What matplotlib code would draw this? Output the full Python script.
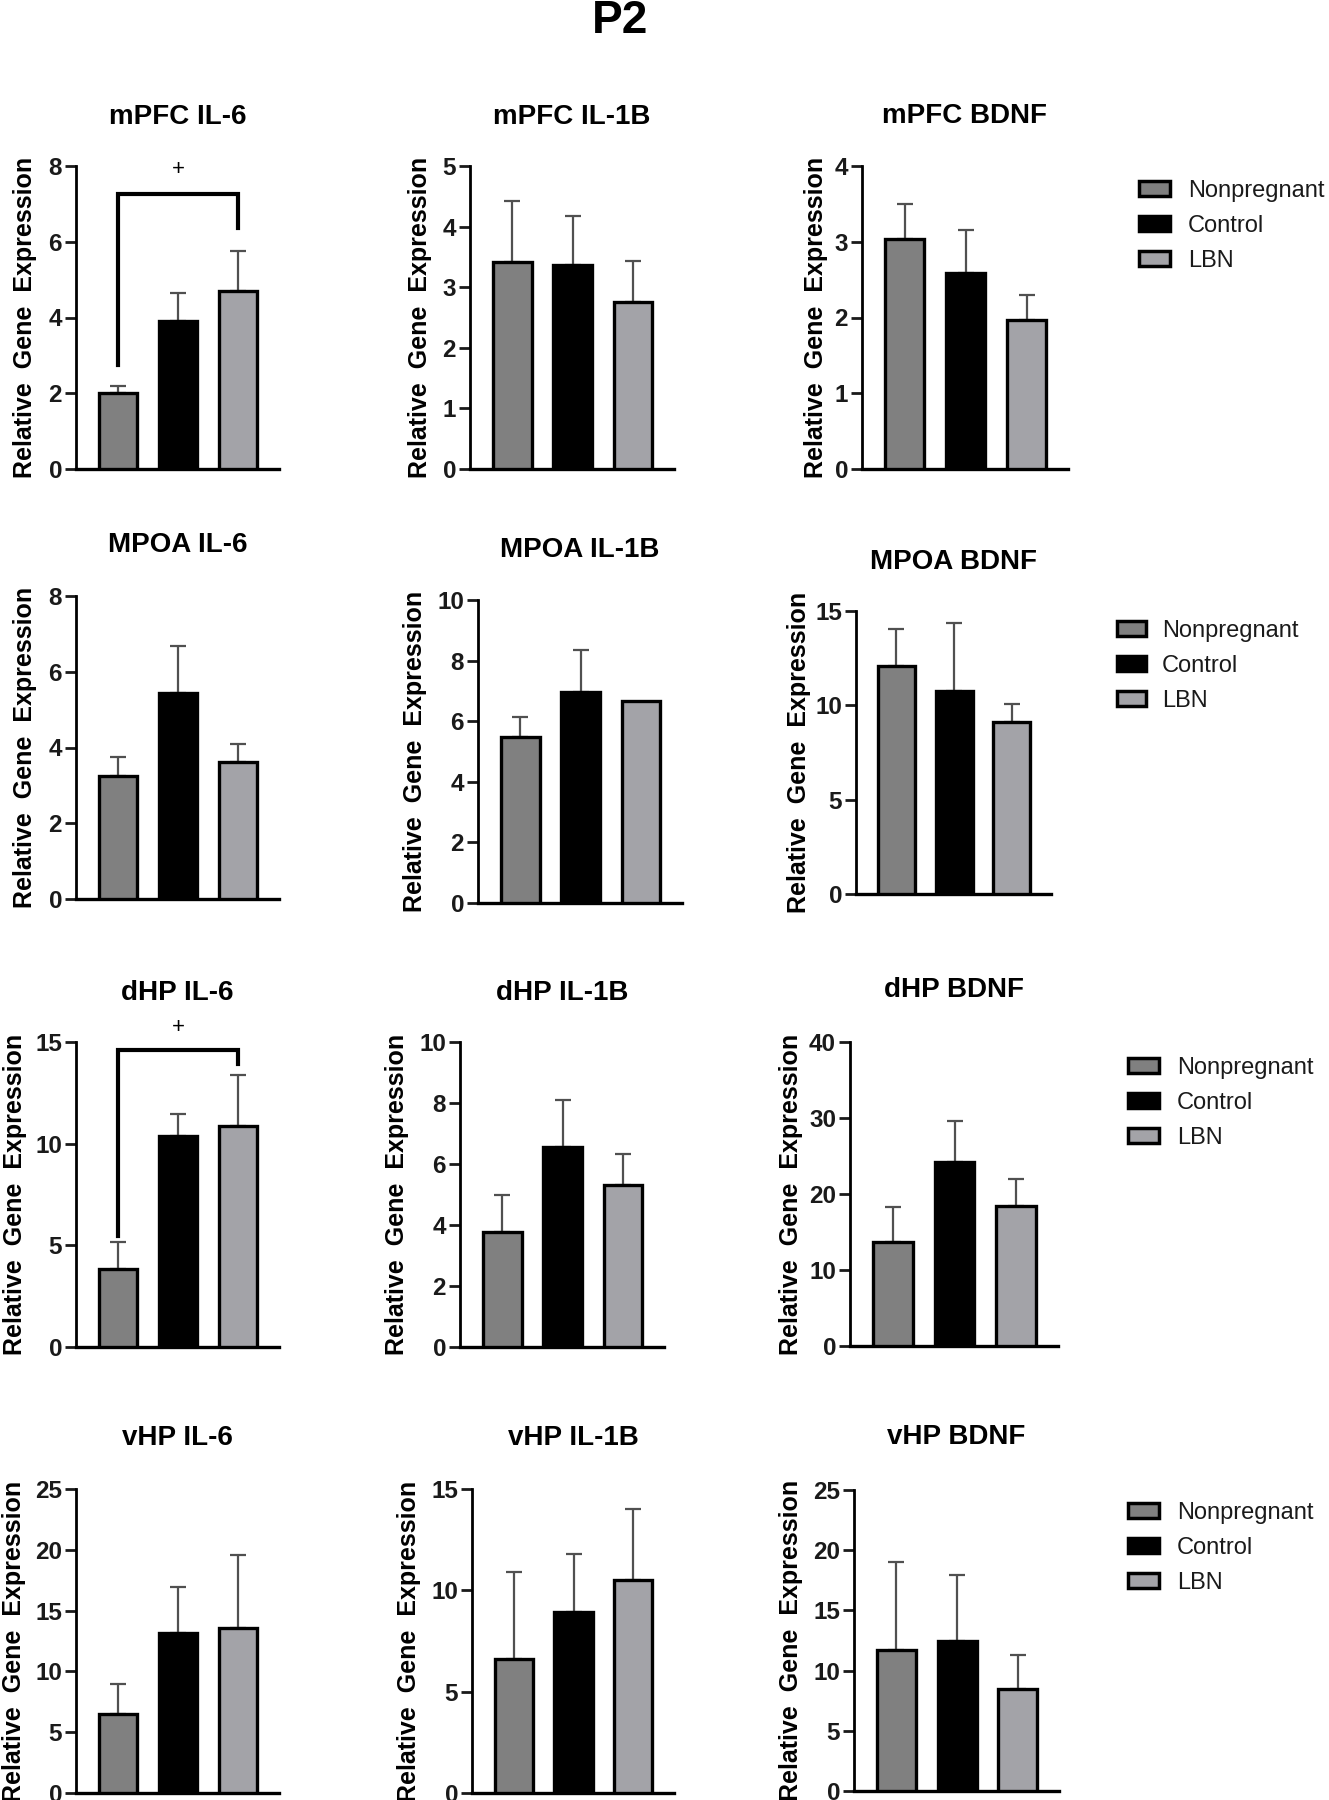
import matplotlib
matplotlib.use("Agg")
import matplotlib.pyplot as plt
from matplotlib.patches import Patch
import numpy as np

plt.rcParams['font.family'] = ['Liberation Sans', 'DejaVu Sans']

# ---------------- data ----------------
groups = ['Nonpregnant', 'Control', 'LBN']
group_colors = ['#808080', '#000000', '#a3a3a8']

titles = ['mPFC IL-6', 'mPFC IL-1B', 'mPFC BDNF',
          'MPOA IL-6', 'MPOA IL-1B', 'MPOA BDNF',
          'dHP IL-6', 'dHP IL-1B', 'dHP BDNF',
          'vHP IL-6', 'vHP IL-1B', 'vHP BDNF']

mpfc_means = [[2.00, 3.92, 4.70], [3.41, 3.36, 2.76], [3.03, 2.59, 1.97]]
mpfc_sem = [[0.20, 0.72, 1.05], [1.01, 0.82, 0.68], [0.47, 0.57, 0.33]]
mpoa_means = [[3.24, 5.43, 3.61], [5.48, 6.97, 6.66], [12.07, 10.75, 9.13]]
mpoa_sem = [[0.51, 1.25, 0.48], [0.67, 1.38, 0.00], [1.98, 3.60, 0.95]]
dhp_means = [[3.82, 10.38, 10.87], [3.77, 6.56, 5.30], [13.68, 24.17, 18.45]]
dhp_sem = [[1.33, 1.10, 2.51], [1.20, 1.53, 1.04], [4.55, 5.43, 3.58]]
vhp_means = [[6.46, 13.13, 13.54], [6.61, 8.93, 10.52], [11.71, 12.49, 8.46]]
vhp_sem = [[2.47, 3.77, 6.05], [4.29, 2.87, 3.47], [7.34, 5.48, 2.84]]

y_max = [8, 5, 4, 8, 10, 15, 15, 10, 40, 25, 15, 25]
y_step = [2, 1, 1, 2, 2, 5, 5, 2, 10, 5, 5, 5]

# significance brackets: panel index, top, left foot, right foot, label y
bracket_panels = [0, 6]
bracket_top = [7.25, 14.59]
bracket_left_foot = [2.75, 5.44]
bracket_right_foot = [6.37, 13.9]
bracket_label_y = [7.9, 15.7]
bracket_label = ['+', '+']

# ---------------- layout (pixels) ----------------
W, H = 1329, 1800
# (axis x, top, bottom, right)
boxes = [(76, 166, 469, 279), (470, 166, 469, 674), (862, 166, 469, 1068),
         (76, 596, 899, 279), (478, 600, 903, 682), (856, 611, 894, 1051),
         (76, 1042, 1347, 279), (460, 1042, 1347, 664), (850, 1042, 1346, 1058),
         (76, 1489, 1793, 279), (472, 1489, 1793, 674), (854, 1490, 1791, 1059)]
title_y = [117, 117, 116, 545, 550, 562, 993, 993, 990, 1438, 1438, 1437]
# y-label centre offsets from the y axis (px)
ylabel_off = [-53, -52, -48, -53, -65, -59, -63, -65, -61, -64, -65, -65]
# legends: patch left x, middle row y, text pad px, patch width
legend_pos = [(1139, 226, 18, 31), (1117, 666, 16, 29), (1128, 1103, 18, 31),
              (1128, 1548, 18, 31)]

fig = plt.figure(figsize=(W / 100, H / 100), dpi=100)
fig.text(620 / W, 1 - 21 / H, 'P2', ha='center', va='center',
         fontsize=33, fontweight='bold')

all_means = mpfc_means + mpoa_means + dhp_means + vhp_means
all_sem = mpfc_sem + mpoa_sem + dhp_sem + vhp_sem

x = np.arange(len(groups))
for i, (ax_x, top, bot, right) in enumerate(boxes):
    ax = fig.add_axes([ax_x / W, 1 - bot / H, (right - ax_x) / W, (bot - top) / H])
    m = np.array(all_means[i])
    s = np.array(all_sem[i])
    ax.bar(x, m, width=0.64, color=group_colors, edgecolor='black',
           linewidth=2.4, zorder=3)
    mask = s > 0
    ax.errorbar(x[mask], m[mask], yerr=[np.zeros(mask.sum()), s[mask]],
                fmt='none', ecolor='#505050', elinewidth=1.6, capsize=6,
                capthick=1.6, zorder=2)
    ax.set_xlim(-0.7, 2.68)
    ax.set_ylim(0, y_max[i])
    ticks = np.arange(0, y_max[i] + 0.001, y_step[i])
    ax.set_yticks(ticks)
    ax.set_yticklabels([f'{int(v)}' for v in ticks], fontsize=17.5,
                       fontweight='bold')
    ax.set_xticks([])
    for sp in ['top', 'right']:
        ax.spines[sp].set_visible(False)
    ax.spines['left'].set_linewidth(2.0)
    ax.spines['bottom'].set_linewidth(2.4)
    ax.tick_params(axis='y', direction='out', length=8, width=2.0, pad=2,
                   colors='#1a1a1a')
    ax.set_ylabel('Relative  Gene  Expression', fontsize=18, fontweight='bold')
    ax.yaxis.set_label_coords((ylabel_off[i] + 14) / (right - ax_x), 0.5)
    fig.text(((ax_x + right) / 2) / W, 1 - title_y[i] / H, titles[i],
             ha='center', va='center', fontsize=20, fontweight='bold')

    if i in bracket_panels:
        k = bracket_panels.index(i)
        ax.plot([x[0], x[0], x[2], x[2]],
                [bracket_left_foot[k], bracket_top[k], bracket_top[k], bracket_right_foot[k]],
                color='black', linewidth=3.0, clip_on=False, zorder=4,
                solid_joinstyle='miter')
        ax.text(x[1], bracket_label_y[k], bracket_label[k], ha='center',
                va='center', fontsize=16, clip_on=False)

handles = [Patch(facecolor=c, edgecolor='black', linewidth=2.5, label=g)
           for g, c in zip(groups, group_colors)]
for (lx, ly, pad, pw) in legend_pos:
    fs = 17
    fpx = fs * 100 / 72
    fig.legend(handles=handles, loc='center left',
               bbox_to_anchor=(lx / W, 1 - ly / H), bbox_transform=fig.transFigure,
               frameon=False, fontsize=fs, borderpad=0, borderaxespad=0,
               handlelength=pw / fpx, handleheight=14 / fpx,
               handletextpad=pad / fpx, labelspacing=0.55, labelcolor='#1a1a1a')

fig.savefig('out.png', dpi=100)
